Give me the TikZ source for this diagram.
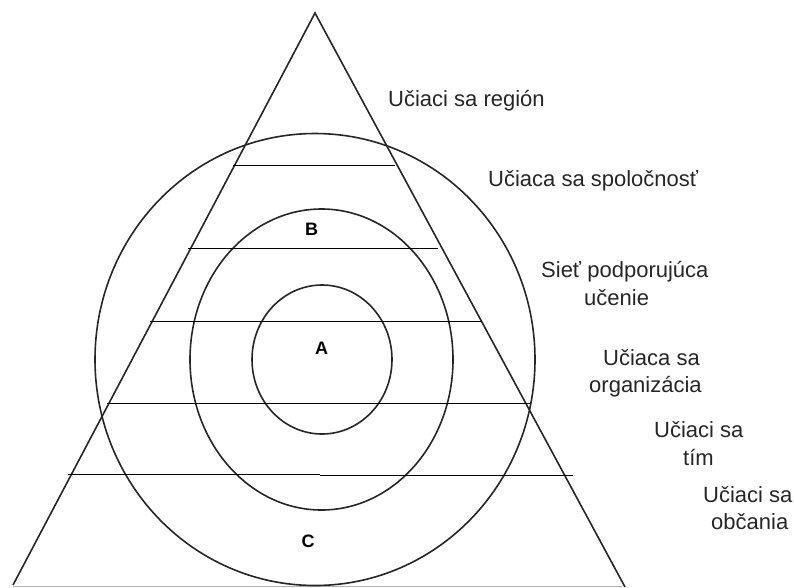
\documentclass[tikz,border=0pt]{standalone}
\usepackage{fontspec}
\setmainfont{Liberation Sans}
\begin{document}
\begin{tikzpicture}[x=1pt,y=-1pt,
  outl/.style={draw=black!85,line width=1.6pt},
  band/.style={draw=black,line width=0.9pt},
  lbl/.style={anchor=base west,inner sep=0pt,text=black!85,font=\fontsize{22}{26}\selectfont},
  letter/.style={anchor=center,inner sep=0pt,font=\fontsize{18}{20}\selectfont\bfseries}]
\useasboundingbox (0,0) rectangle (794,587);
% triangle
\coordinate (apex) at (315,13);
\coordinate (bl) at (13,585);
\coordinate (br) at (625,587);
\draw[draw=black!30,line width=0.8pt] (13,586) -- (622,586);
\draw[outl,line join=miter] (bl) -- (apex) -- (br);
% ellipses
\draw[outl] (322,359.5) ellipse [x radius=70,y radius=74.5];
\draw[outl] (321.5,359.5) ellipse [x radius=131.5,y radius=150.5];
\draw[outl] (315,359.5) ellipse [x radius=220,y radius=226];
% horizontal bands
\coordinate (h1a) at (233,165); \coordinate (h1b) at (395,165);
\coordinate (h2a) at (188,248); \coordinate (h2b) at (438,248);
\coordinate (h3a) at (150,321); \coordinate (h3b) at (482,321);
\coordinate (h4a) at (107,403); \coordinate (h4b) at (530,403);
\coordinate (h5a) at (68,474); \coordinate (h5m) at (320,474);
\coordinate (h5n) at (320,475); \coordinate (h5b) at (573,475);
\draw[band] (h1a) -- (h1b);
\draw[band] (h2a) -- (h2b);
\draw[band] (h3a) -- (h3b);
\draw[band] (h4a) -- (h4b);
\draw[band] (h5a) -- (h5m);
\draw[band] (h5n) -- (h5b);
% letters
\node[letter] (B) at (311.5,229.5) {B};
\node[letter] (A) at (321.5,348.5) {A};
\node[letter] (C) at (308,541.5) {C};
% labels
\node[lbl] (lreg) at (388,106) {Učiaci sa región};
\node[lbl] (lspol) at (488,186) {Učiaca sa spoločnosť};
\node[lbl] (lsieta) at (541,277) {Sieť podporujúca};
\node[lbl] (lsietb) at (584,305) {učenie};
\node[lbl] (lorga) at (603,365) {Učiaca sa};
\node[lbl] (lorgb) at (589,392) {organizácia};
\node[lbl] (ltima) at (654,437) {Učiaci sa};
\node[lbl] (ltimb) at (683,465) {tím};
\node[lbl] (lobca) at (703,502) {Učiaci sa};
\node[lbl] (lobcb) at (711,529) {občania};
\end{tikzpicture}
\end{document}
